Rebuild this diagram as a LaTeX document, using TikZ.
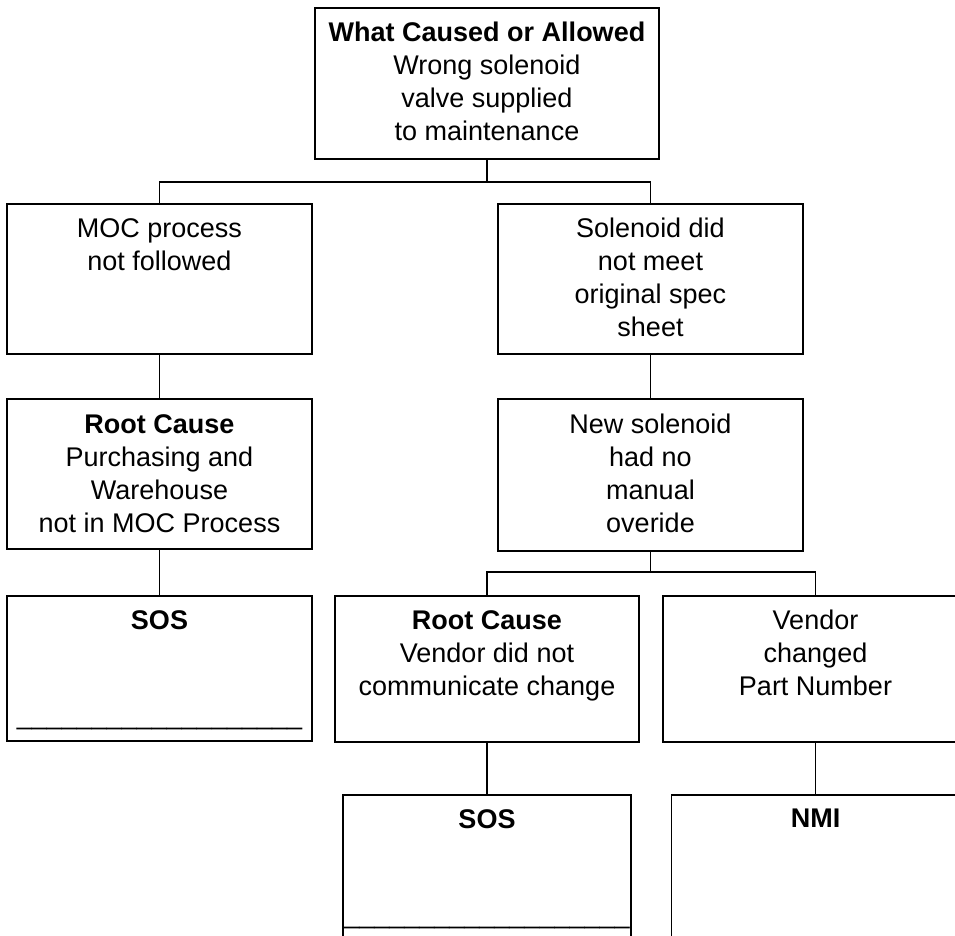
\documentclass[tikz,border=0pt]{standalone}
\usepackage{fontspec}
\setmainfont{Liberation Sans}
\usetikzlibrary{positioning}

\begin{document}
\begin{tikzpicture}[x=1pt,y=-1pt]
  \tikzset{ box/.style={draw,line width=1.8pt,anchor=north,inner sep=0pt,minimum width=305pt,minimum height=150pt},
    txt/.style={anchor=north,inner sep=0pt,align=center,font=\fontsize{27}{33}\selectfont},
    link/.style={line width=1.3pt},
  }
  \useasboundingbox (0,0) rectangle (955,936);
  \clip (0,0) rectangle (955,936);

  % boxes, placed by their top middle
  \node[box,minimum width=344pt,minimum height=151pt] (top) at (487,7) {};
  \node[box] (moc) at (159.5,203) {};
  \node[box] (sol) at (650.5,203) {};
  \node[box] (rc1) at (159.5,398) {};
  \node[box,minimum height=152pt] (newsol) at (650.5,398) {};
  \node[box,minimum height=145pt] (sos1) at (159.5,595) {};
  \node[box,minimum width=304pt,minimum height=146pt] (rc2) at (487,595) {};
  \node[box,minimum height=146pt] (vend) at (815.5,595) {};
  \node[box,minimum width=288pt,minimum height=145pt] (sos2) at (487,794) {};
  \node[box,minimum width=288pt,minimum height=145pt] (nmi) at (815.5,794) {};

  % texts
  \node[txt,below=15pt of top.north] (ttop) {\textbf{What Caused or Allowed}\\Wrong solenoid\\valve supplied\\to maintenance};
  \node[txt,below=15pt of moc.north] (tmoc) {MOC process\\not followed};
  \node[txt,below=15pt of sol.north] (tsol) {Solenoid did\\not meet\\original spec\\sheet};
  \node[txt,below=16pt of rc1.north] (trc1) {\textbf{Root Cause}\\Purchasing and\\Warehouse\\not in MOC Process};
  \node[txt,below=16pt of newsol.north] (tnewsol) {New solenoid\\had no\\manual\\overide};
  \node[txt,below=15pt of sos1.north] (tsos1) {\textbf{SOS}\\[62pt]\_\_\_\_\_\_\_\_\_\_\_\_\_\_\_\_\_\_\_};
  \node[txt,below=15pt of rc2.north] (trc2) {\textbf{Root Cause}\\Vendor did not\\communicate change};
  \node[txt,below=15pt of vend.north] (tvend) {Vendor\\changed\\Part Number};
  \node[txt,below=15pt of sos2.north] (tsos2) {\textbf{SOS}\\[62pt]\_\_\_\_\_\_\_\_\_\_\_\_\_\_\_\_\_\_\_};
  \node[txt,below=15pt of nmi.north] (tnmi) {\textbf{NMI}};

  % the connections
  \coordinate (j1) at (487,182);
  \coordinate (j2) at (650.5,572);
  \draw[link] (top.south) -- (j1);
  \draw[link] (moc.north) |- (j1) -| (sol.north);
  \draw[link] (moc.south) -- (rc1.north);
  \draw[link] (rc1.south) -- (sos1.north);
  \draw[link] (sol.south) -- (newsol.north);
  \draw[link] (newsol.south) -- (j2);
  \draw[link] (rc2.north) |- (j2) -| (vend.north);
  \draw[link] (rc2.south) -- (sos2.north);
  \draw[link] (vend.south) -- (nmi.north);
\end{tikzpicture}
\end{document}
